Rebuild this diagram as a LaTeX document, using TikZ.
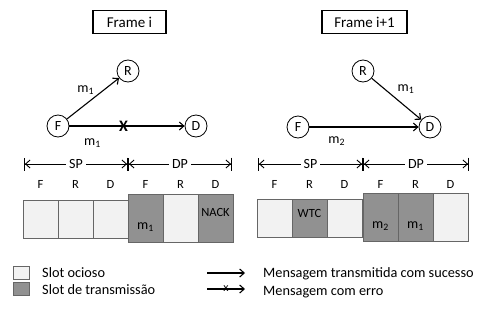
\documentclass[tikz,border=0pt]{standalone}
\usepackage{fontspec}
\setmainfont{Carlito}
\usetikzlibrary{arrows.meta}
\begin{document}
\begin{tikzpicture}[x=1pt,y=-1pt,
  >={Straight Barb[length=4.5pt,width=8pt]},
  msg/.style={->,line width=1.1pt},
  st/.style={circle,draw,line width=0.8pt,fill=white,minimum size=22pt,inner sep=0pt,font=\fontsize{14}{15}\selectfont},
  framebox/.style={draw,line width=1.2pt,minimum width=73pt,minimum height=23pt,inner sep=0pt,font=\fontsize{15}{16}\selectfont},
  idle/.style={draw=black!60,line width=0.8pt,fill=black!5,minimum width=35pt,inner sep=0pt},
  busy/.style={draw=black!60,line width=0.8pt,fill=black!43,minimum width=35pt,inner sep=0pt},
  short/.style={minimum height=38pt},
  tall/.style={minimum height=48pt},
  lbl/.style={font=\fontsize{14}{15}\selectfont,inner sep=1pt},
  slotlbl/.style={font=\fontsize{12.5}{13}\selectfont,inner sep=0pt},
  dim/.style={{Bar[width=13pt]Straight Barb[length=4.5pt,width=8pt]}-{Straight Barb[length=4.5pt,width=8pt]Bar[width=13pt]},line width=0.9pt},
  legtxt/.style={font=\fontsize{14.3}{15}\selectfont,anchor=west,inner sep=0pt}
]
\useasboundingbox (0,0) rectangle (478,324);
\coordinate (row) at (0,184);

% ---------- Frame i ----------
\node[framebox] (fi) at (129.5,22) {Frame i};
\node[st] (R1) at (128,71) {R};
\node[st] (F1) at (58,126) {F};
\node[st] (D1) at (196,126) {D};
\draw[msg] (F1) -- node[lbl,pos=0.55,anchor=south east] {m\textsubscript{1}} (R1);
\draw[msg] (F1) -- node[lbl,pos=0.2,below=11pt] {m\textsubscript{1}}
  node[pos=0.47,inner sep=0pt,font=\fontsize{16}{16}\selectfont\bfseries] (X1) {X} (D1);

\coordinate (a1) at (24,164);
\coordinate (a2) at (128,164);
\coordinate (a3) at (232,164);
\draw[dim] (a1) -- node[fill=white,lbl,inner sep=3pt] {SP} (a2);
\draw[dim] (a2) -- node[fill=white,lbl,inner sep=3pt] {DP} (a3);

\node[idle,short] (s1) at (40.5,219) {};
\node[idle,short] (s2) at (75.5,219) {};
\node[idle,short] (s3) at (110.5,219) {};
\node[busy,tall] (s4) at (145.5,218) {};
\node[idle,tall] (s5) at (180.5,218) {};
\node[busy,tall] (s6) at (215.5,218) {};
\node[lbl] at ([yshift=-9pt]s4.center) {m\textsubscript{1}};
\node[slotlbl] at ([yshift=6pt]s6.center) {NACK};
\foreach \s/\t in {s1/F,s2/R,s3/D,s4/F,s5/R,s6/D}
  \node[slotlbl] at (\s |- row) {\t};

% ---------- Frame i+1 ----------
\node[framebox,minimum width=85pt] (fj) at (364.5,22) {Frame i+1};
\node[st] (R2) at (363,71) {R};
\node[st] (F2) at (298,127) {F};
\node[st] (D2) at (430,127) {D};
\draw[msg] (R2) -- node[lbl,pos=0.45,above right=2pt] {m\textsubscript{1}} (D2);
\draw[msg] (F2) -- node[lbl,pos=0.25,below=8pt] {m\textsubscript{2}} (D2);

\coordinate (b1) at (258,164);
\coordinate (b2) at (363,164);
\coordinate (b3) at (469,164);
\draw[dim] (b1) -- node[fill=white,lbl,inner sep=3pt] {SP} (b2);
\draw[dim] (b2) -- node[fill=white,lbl,inner sep=3pt] {DP} (b3);

\node[idle,short] (t1) at (274.5,218) {};
\node[busy,short] (t2) at (309.5,218) {};
\node[idle,short] (t3) at (344.5,218) {};
\node[busy,tall] (t4) at (380.5,217) {};
\node[busy,tall] (t5) at (415.5,217) {};
\node[idle,tall] (t6) at (450.5,217) {};
\node[slotlbl] at ([yshift=5pt]t2.center) {WTC};
\node[lbl] at ([yshift=-9pt]t4.center) {m\textsubscript{2}};
\node[lbl] at ([yshift=-9pt]t5.center) {m\textsubscript{1}};
\foreach \s/\t in {t1/F,t2/R,t3/D,t4/F,t5/R,t6/D}
  \node[slotlbl] at (\s |- row) {\t};

% ---------- Legend ----------
\node[idle,minimum width=16pt,minimum height=13pt] (l1) at (21.5,273) {};
\node[busy,minimum width=16pt,minimum height=13pt] (l2) at (21.5,289) {};
\node[legtxt] (lt1) at (42,273) {Slot ocioso};
\node[legtxt] (lt2) at (42,290) {Slot de transmissão};
\coordinate (la1) at (207,273);
\coordinate (la2) at (245,273);
\coordinate (lb1) at (207,289);
\coordinate (lb2) at (245,289);
\draw[msg] (la1) -- (la2);
\draw[msg] (lb1) -- node[pos=0.5,inner sep=0pt,font=\fontsize{12}{12}\selectfont] (X2) {x} (lb2);
\node[legtxt] (lt3) at (263,274) {Mensagem transmitida com sucesso};
\node[legtxt] (lt4) at (263,292) {Mensagem com erro};
\end{tikzpicture}
\end{document}
